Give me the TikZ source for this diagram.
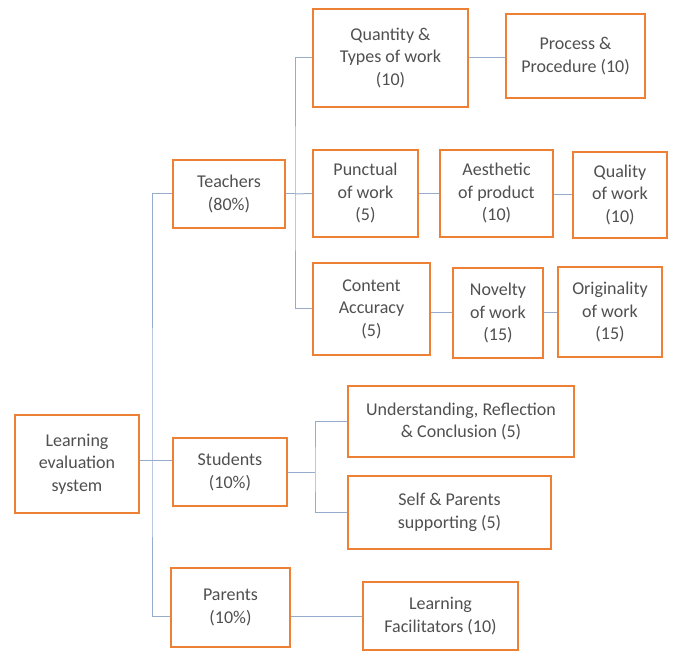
\documentclass[tikz,border=0pt]{standalone}
\usepackage{fontspec}
\setmainfont{Carlito}
\definecolor{boxorange}{RGB}{237,128,52}
\definecolor{linkblue}{RGB}{150,172,205}
\definecolor{txtgrey}{RGB}{80,80,80}
\begin{document}
\begin{tikzpicture}[x=1pt,y=-1pt,
  box/.style={draw=boxorange,line width=2.4pt,fill=white,rectangle,inner sep=0pt,
    align=center,text=txtgrey,font=\fontsize{18}{22.5}\selectfont},
  link/.style={draw=linkblue,line width=1pt}]
\useasboundingbox (0,0) rectangle (675,652);
% level 0 and 1
\node[box,minimum width=124pt,minimum height=98pt] (les) at (77,464) {Learning\\evaluation\\system};
\node[box,minimum width=112pt,minimum height=68pt] (tea) at (229,194) {Teachers\\(80\%)};
\node[box,minimum width=114pt,minimum height=68pt] (stu) at (230,472) {Students\\(10\%)};
\node[box,minimum width=119pt,minimum height=79pt] (par) at (230.5,607.5) {Parents\\(10\%)};
% teachers subtree
\node[box,minimum width=155pt,minimum height=98pt] (qty) at (390.5,58) {Quantity \&\\Types of work\\(10)};
\node[box,minimum width=139pt,minimum height=84pt] (pro) at (575.5,56) {Process \&\\Procedure (10)};
\node[box,minimum width=105pt,minimum height=87pt] (pun) at (365.5,193.5) {Punctual\\of work\\(5)};
\node[box,minimum width=113pt,minimum height=87pt] (aes) at (496.5,193.5) {Aesthetic\\of product\\(10)};
\node[box,minimum width=94pt,minimum height=86pt] (qua) at (620,195) {Quality\\of work\\(10)};
\node[box,minimum width=117pt,minimum height=92pt] (con) at (371.5,309) {Content\\Accuracy\\(5)};
\node[box,minimum width=90pt,minimum height=90pt] (nov) at (498,313) {Novelty\\of work\\(15)};
\node[box,minimum width=104pt,minimum height=90pt] (ori) at (610,312) {Originality\\of work\\(15)};
% students subtree
\node[box,minimum width=226pt,minimum height=71pt] (und) at (461,421.5) {Understanding, Reflection\\\& Conclusion (5)};
\node[box,minimum width=203pt,minimum height=73pt] (sel) at (449.5,512.5) {Self \& Parents\\supporting (5)};
% parents subtree
\node[box,minimum width=155pt,minimum height=68pt] (fac) at (440.5,616) {Learning\\Facilitators (10)};
% junction coordinates
\coordinate (j0) at (152,460);
\coordinate (jt) at (295,194);
\coordinate (js) at (315,472);
% connectors: root
\draw[link] (les.east |- j0) -- (stu.west |- j0);
\draw[link] (tea.west) -| (j0) |- (par.west |- fac.west);
\draw[link] (par.east |- fac.west) -- (fac.west);
% teachers
\draw[link] (tea.east) -- (jt);
\draw[link] (qty.west) -| (jt) |- (con.west);
\draw[link] (jt) -- (pun.west);
\draw[link] (qty.east) -- (pro.west |- qty.east);
\draw[link] (pun.east) -- (aes.west |- pun.east);
\draw[link] (aes.east |- qua.west) -- (qua.west);
\draw[link] (con.east |- nov.west) -- (nov.west);
\draw[link] (nov.east) -- (ori.west |- nov.east);
% students
\draw[link] (stu.east) -- (js);
\draw[link] (und.west) -| (js) |- (sel.west);
\end{tikzpicture}
\end{document}
